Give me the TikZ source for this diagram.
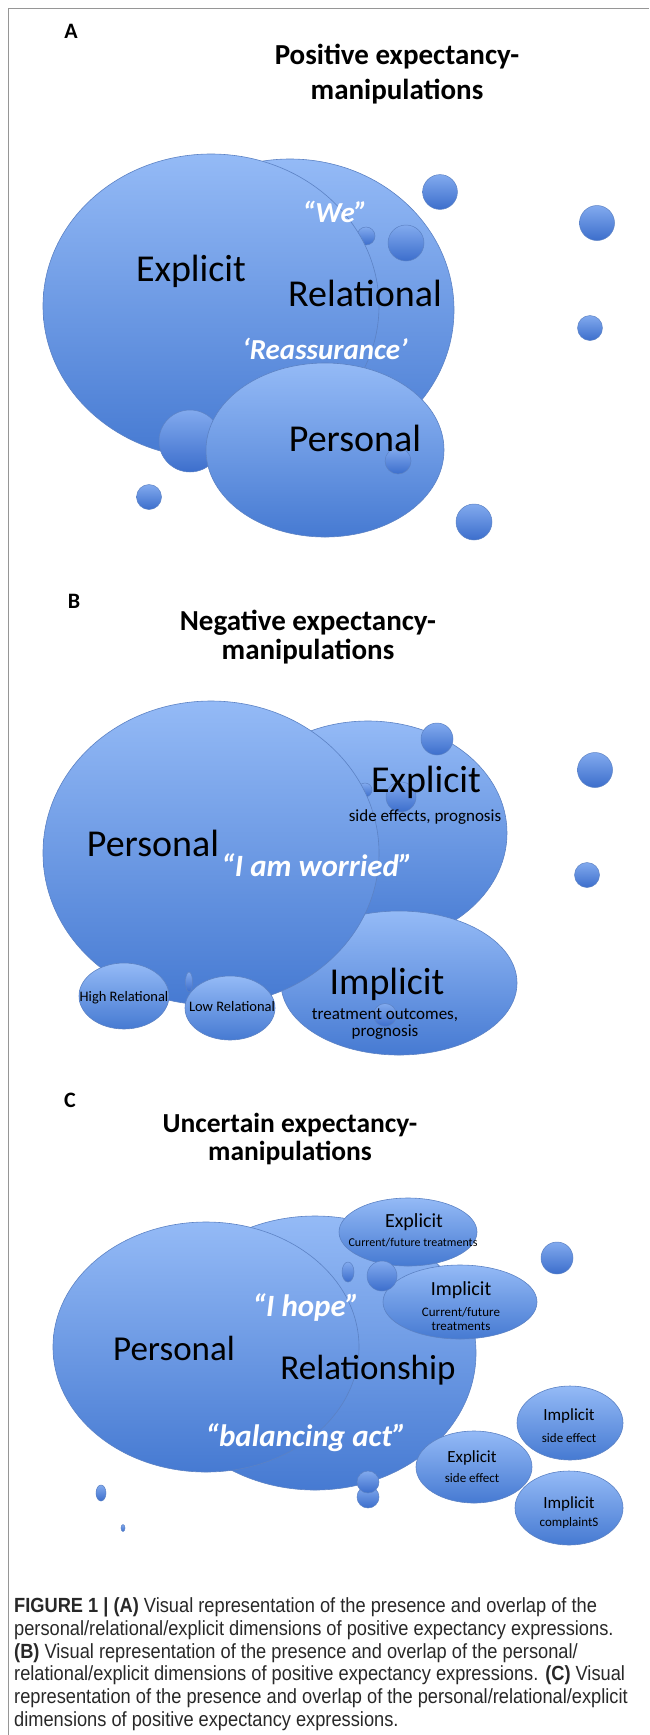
\documentclass[tikz,border=0pt]{standalone}
\usepackage{fontspec}
\setmainfont{Carlito}
\newfontfamily\capfont[FakeStretch=0.89]{Liberation Sans}
\usepackage{xcolor}

\definecolor{bubtop}{RGB}{148,186,246}
\definecolor{bubbot}{RGB}{70,122,210}
\definecolor{bubedge}{RGB}{92,130,196}
\definecolor{balltop}{RGB}{130,170,238}
\definecolor{ballbot}{RGB}{60,110,204}
\definecolor{framegray}{RGB}{150,150,150}
\definecolor{captext}{RGB}{40,40,40}

\tikzset{
  bubble/.style={top color=bubtop, bottom color=bubbot, draw=bubedge, line width=0.6},
  ball/.style={top color=balltop, bottom color=ballbot, draw=bubedge, line width=0.5},
  biglabel/.style={inner sep=0pt, text=black, font=\fontsize{38}{38}\selectfont},
  quote/.style={inner sep=0pt, text=white, font=\bfseries\itshape\fontsize{29}{29}\selectfont},
  midlabel/.style={inner sep=0pt, text=black, font=\fontsize{18}{18}\selectfont},
  sublabel/.style={inner sep=0pt, text=black, font=\fontsize{13}{13}\selectfont},
  panel/.style={inner sep=0pt, font=\bfseries\fontsize{22}{22}\selectfont},
  heading/.style={inner sep=0pt, align=center, font=\bfseries\fontsize{29}{29}\selectfont}
}

\begin{document}
\begin{tikzpicture}[x=1pt, y=-1pt]

\useasboundingbox (0,0) rectangle (649,1735);

\draw[framegray, line width=1.5] (8.5,1735) -- (8.5,8.5) -- (649,8.5);


% A
\node (A) at (71,31) [panel] {A};
\node (titleA) at (397,74.5) [heading, font=\bfseries\fontsize{29}{35}\selectfont] {Positive expectancy-\\manipulations};

\draw[bubble] (290,310) ellipse [x radius=164, y radius=151];
\draw[ball] (366,236) circle [radius=9];
\draw[bubble] (211,306) ellipse [x radius=168, y radius=152];
\draw[ball] (406,243) circle [radius=18];
\draw[ball] (440,192) circle [radius=17.4];
\draw[ball] (190,441) circle [radius=31];
\draw[bubble] (325,450) ellipse [x radius=119, y radius=87];
\draw[ball] (398,461) circle [radius=13];

\foreach \x/\y/\rad in {597/223/17.5, 590/328/12.5, 149/497/12.5, 474/522/18}
\draw[ball] (\x,\y) circle [radius=\rad];

\node (explA) at (191,271) [biglabel] {Explicit};
\node (relA) at (365,293) [biglabel] {Relational};
\node (persA) at (355,438) [biglabel] {Personal};
\node (weA) at (335,212) [quote] {“We”};
\node (reasA) at (325,349) [quote] {‘Reassurance’};


% B
\node (B) at (74,601) [panel] {B};
\node (titleB) at (308,637.5) [heading] {Negative expectancy-\\manipulations};

\draw[bubble] (368,833) ellipse [x radius=139, y radius=112];
\draw[ball] (437,739) circle [radius=16];
\draw[ball] (401,797) circle [radius=15];
\draw[bubble] (399,983) ellipse [x radius=118, y radius=72];
\draw[ball] (385,1015) circle [radius=11.5];
\draw[ball] (365,790) circle [radius=7];
\draw[bubble] (211,853) ellipse [x radius=168, y radius=152];
\draw[bubble] (124,996) ellipse [x radius=45, y radius=33];
\draw[bubble] (230,1008) ellipse [x radius=45, y radius=32];
\draw[ball] (189,982) ellipse [x radius=3.5, y radius=10];

\foreach \x/\y/\rad in {595/770/17.5, 587/875/12.5}
\draw[ball] (\x,\y) circle [radius=\rad];

\node (persB) at (153,843) [biglabel] {Personal};
\node (worryB) at (317,865) [quote, font=\bfseries\itshape\fontsize{31}{31}\selectfont] {“I am worried”};
\node (explB) at (426,782) [biglabel] {Explicit};
\node (explBsub) at (425,817) [sublabel, font=\fontsize{17}{17}\selectfont] {side effects, prognosis};
\node (implB) at (387,984) [biglabel] {Implicit};
\node (implBsub) at (385,1024) [sublabel, align=center, font=\fontsize{17}{17}\selectfont] {treatment outcomes,\\prognosis};
\node (highB) at (124,998) [sublabel, font=\fontsize{14.5}{14.5}\selectfont] {High Relational};
\node (lowB) at (232,1007) [sublabel, font=\fontsize{14.5}{14.5}\selectfont] {Low Relational};


% C
\node (C) at (70,1100) [panel] {C};
\node (titleC) at (290,1139) [heading, font=\bfseries\fontsize{27.5}{28}\selectfont] {Uncertain expectancy-\\manipulations};

\draw[bubble] (315,1353) ellipse [x radius=161, y radius=137];
\draw[ball] (348,1272) ellipse [x radius=6, y radius=10];
\draw[bubble] (206,1347) ellipse [x radius=153, y radius=125];
\draw[bubble] (408,1232) ellipse [x radius=69, y radius=34];
\draw[bubble] (460,1302) ellipse [x radius=77, y radius=37];
\draw[ball] (382,1276) circle [radius=15];
\draw[bubble] (570,1423) ellipse [x radius=53, y radius=37];
\draw[bubble] (474,1467) ellipse [x radius=58, y radius=36];
\draw[bubble] (569,1508) ellipse [x radius=54, y radius=37];
\draw[ball] (368,1497) circle [radius=11];
\draw[ball] (368,1482) circle [radius=11];

\draw[ball] (557,1258) circle [radius=16];
\draw[ball] (101,1493) ellipse [x radius=5, y radius=8];
\draw[ball] (123,1528) ellipse [x radius=2, y radius=3.5];

\node (persC) at (174,1348) [biglabel, font=\fontsize{35}{35}\selectfont] {Personal};
\node (relC) at (368,1370) [biglabel, font=\fontsize{35}{35}\selectfont] {Relationship};
\node (hopeC) at (306,1307) [quote, font=\bfseries\itshape\fontsize{31}{31}\selectfont] {“I hope”};
\node (balC) at (306,1438) [quote, font=\bfseries\itshape\fontsize{31}{31}\selectfont] {“balancing act”};

\node (explC) at (414,1222) [midlabel, font=\fontsize{20}{20}\selectfont] {Explicit};
\node (explCsub) at (413,1243) [sublabel, font=\fontsize{12}{12}\selectfont] {Current/future treatments};
\node (implC) at (461,1290) [midlabel, font=\fontsize{20}{20}\selectfont] {Implicit};
\node (implCsub) at (461,1319) [sublabel, align=center, font=\fontsize{13}{14}\selectfont] {Current/future\\treatments};
\node (impSE) at (569,1416) [midlabel, font=\fontsize{17}{17}\selectfont] {Implicit};
\node (impSEsub) at (569,1438) [sublabel] {side effect};
\node (expSE) at (472,1458) [midlabel, font=\fontsize{17}{17}\selectfont] {Explicit};
\node (expSEsub) at (472,1478) [sublabel] {side effect};
\node (impCO) at (569,1504) [midlabel, font=\fontsize{17}{17}\selectfont] {Implicit};
\node (impCOsub) at (569,1523) [sublabel] {complaintS};


% caption
\node (caption) at (14,1597.5) [anchor=north west, inner sep=0pt, align=left, text=captext, font=\capfont\fontsize{20.5}{22.8}\selectfont]
{{\bfseries FIGURE 1 | (A)} Visual representation of the presence and overlap of the\\
personal/relational/explicit dimensions of positive expectancy expressions.\\
{\bfseries (B)} Visual representation of the presence and overlap of the personal/\\
relational/explicit dimensions of positive expectancy expressions. {\bfseries (C)} Visual\\
representation of the presence and overlap of the personal/relational/explicit\\
dimensions of positive expectancy expressions.};

\end{tikzpicture}
\end{document}
